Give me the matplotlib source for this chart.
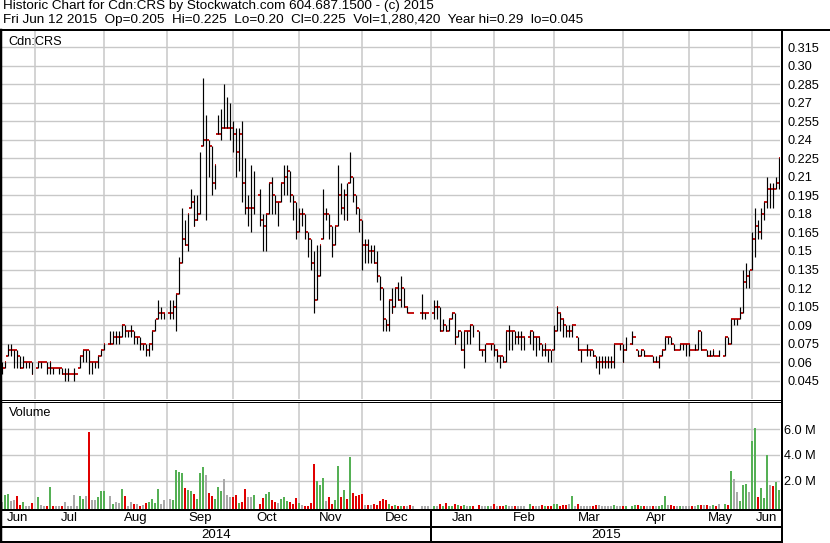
import numpy as np
import pandas as pd
import matplotlib
matplotlib.use("Agg")
import matplotlib.pyplot as plt
from matplotlib.transforms import blended_transform_factory

plt.rcParams['font.family'] = ['Liberation Sans', 'DejaVu Sans']

N_ = None
dates = pd.bdate_range('2014-06-16', '2015-06-12')

opens = [
    .055, .055, .065, .07, .07, .07, .065, .055, .06, .06,
    .06, N_, .055, .06, .06, .06, .055, .055, .055, .055,
    .055, .05, .05, .05, .05, .05, .055, .065, .07, .07,
    .06, .06, .06, .065, .07, N_, .075, .075, .08, .08,
    .08, .09, .085, .085, .085, .08, .08, .075, .075, .07,
    .075, .085, .095, .10, .10, N_, .10, .10, .105, .115,
    .14, .16, .155, .185, .19, .175, .18, .235, .24, .24,
    .235, .205, .245, .245, .25, .25, .25, .25, .245, .23,
    .245, .205, .185, .185, .185, N_, .195, .175, .17, .18,
    .205, .195, .19, .19, .205, .21, .215, .195, .19, .165,
    .18, .18, .165, .16, .14, .11, .13, .16, .18, .18,
    .17, .155, .17, .195, .185, .195, .205, .21, .195, .185,
    .175, .155, .155, .15, .15, .14, .13, .12, .095, .09,
    .11, .105, .12, .11, .12, .105, .10, .10, N_, N_,
    .10, .10, .10, N_, .10, .105, .105, .085, .09, .085,
    .095, .10, .08, .085, .07, .085, .085, .09, N_, .085,
    .07, .07, .075, .075, .075, .07, .065, .065, .06, .085,
    .085, .085, .08, .08, .08, N_, .08, .085, .08, .08,
    .075, .07, .07, .07, .07, .085, .10, .095, .09, .085,
    .085, .09, .08, .07, .07, .07, .07, .07, .065, .06,
    .06, .06, .06, .06, .06, .075, .075, .075, .07, N_,
    .075, .08, .07, .065, .07, .065, .065, .065, .06, .06,
    .065, .07, .08, .08, .075, .07, .07, .075, .075, .075,
    .07, .07, .07, .085, .07, .07, .065, .065, .065, .065,
    N_, .065, .08, .075, .095, .095, .095, .10, .125, .13,
    .135, .16, .17, .165, .18, .19, .20, .20, .20, .205,
]
highs = [
    .06, .06, .075, .075, .07, .07, .065, .065, .06, .06,
    .06, N_, .06, .06, .06, .06, .06, .055, .055, .055,
    .055, .055, .055, .05, .055, .05, .065, .07, .07, .07,
    .06, .06, .065, .07, .075, N_, .085, .085, .085, .085,
    .09, .09, .085, .09, .085, .08, .08, .075, .075, .075,
    .085, .095, .11, .105, .10, N_, .11, .11, .115, .145,
    .185, .175, .18, .20, .195, .195, .23, .29, .26, .24,
    .235, .22, .26, .265, .285, .275, .27, .255, .25, .25,
    .255, .225, .195, .22, .215, N_, .20, .18, .18, .205,
    .21, .195, .19, .205, .22, .22, .215, .195, .19, .185,
    .185, .18, .165, .16, .15, .155, .155, .20, .185, .18,
    .17, .17, .22, .205, .20, .205, .23, .21, .195, .185,
    .175, .16, .16, .155, .155, .15, .13, .12, .095, .11,
    .12, .12, .125, .13, .12, .105, .10, .10, N_, N_,
    .115, .10, .10, N_, .11, .11, .105, .095, .09, .095,
    .10, .10, .085, .085, .085, .085, .09, .09, N_, .085,
    .07, .075, .075, .075, .075, .07, .065, .065, .085, .09,
    .085, .085, .085, .085, .08, N_, .085, .085, .08, .08,
    .075, .075, .07, .07, .09, .105, .10, .095, .09, .09,
    .09, .09, .08, .07, .07, .075, .07, .07, .065, .065,
    .065, .065, .065, .065, .075, .075, .075, .075, .08, N_,
    .085, .08, .07, .07, .07, .065, .065, .065, .065, .065,
    .07, .08, .08, .08, .075, .07, .075, .075, .075, .075,
    .07, .075, .085, .085, .07, .07, .07, .07, .065, .07,
    N_, .08, .08, .095, .095, .095, .105, .135, .14, .135,
    .165, .185, .175, .185, .19, .21, .205, .205, .21, .225,
]
lows = [
    .05, .055, .065, .065, .055, .055, .055, .055, .055, .055,
    .05, N_, .055, .055, .06, .05, .05, .05, .055, .05,
    .05, .045, .045, .05, .045, .05, .055, .06, .06, .05,
    .05, .055, .055, .065, .07, N_, .075, .075, .075, .075,
    .08, .08, .08, .08, .075, .075, .07, .07, .065, .065,
    .07, .085, .095, .095, .095, N_, .095, .095, .085, .115,
    .14, .155, .15, .185, .17, .175, .18, .235, .175, .21,
    .195, .20, .245, .24, .25, .25, .24, .23, .21, .215,
    .19, .18, .17, .165, .18, N_, .17, .15, .15, .18,
    .18, .18, .17, .19, .195, .195, .19, .175, .16, .165,
    .17, .16, .145, .135, .10, .11, .13, .16, .175, .16,
    .145, .155, .17, .18, .175, .175, .205, .19, .18, .165,
    .135, .14, .14, .14, .14, .125, .11, .085, .085, .085,
    .10, .105, .11, .105, .105, .10, .10, .10, N_, N_,
    .095, .095, .10, N_, .095, .095, .085, .085, .085, .085,
    .095, .075, .08, .07, .055, .075, .075, .08, N_, .07,
    .065, .06, .075, .07, .065, .06, .055, .06, .06, .07,
    .07, .075, .075, .07, .07, N_, .075, .07, .065, .07,
    .065, .065, .06, .06, .07, .085, .085, .08, .08, .08,
    .08, .09, .07, .06, .07, .065, .065, .065, .055, .05,
    .055, .055, .055, .055, .055, .075, .07, .06, .07, N_,
    .075, .08, .065, .065, .065, .065, .065, .06, .06, .055,
    .065, .07, .075, .075, .07, .07, .07, .07, .065, .065,
    .07, .07, .07, .07, .07, .065, .065, .065, .065, .065,
    N_, .065, .075, .075, .09, .09, .095, .10, .12, .12,
    .135, .145, .16, .16, .175, .185, .185, .185, .20, .20,
]
closes = [
    .055, .06, .07, .07, .07, .065, .055, .06, .06, .06,
    .05, N_, .06, .06, .06, .055, .06, .055, .055, .055,
    .05, .05, .05, .05, .05, .05, .065, .07, .07, .06,
    .06, .06, .065, .07, .075, N_, .075, .08, .08, .08,
    .09, .085, .085, .085, .08, .08, .075, .075, .07, .075,
    .085, .09, .10, .10, .10, N_, .10, .105, .115, .14,
    .16, .155, .18, .19, .17, .175, .225, .24, .24, .235,
    .205, .22, .245, .25, .25, .25, .25, .245, .23, .245,
    .205, .185, .185, .185, .195, N_, .175, .17, .18, .205,
    .195, .19, .19, .205, .21, .215, .195, .19, .165, .18,
    .18, .17, .16, .14, .11, .13, .155, .18, .18, .17,
    .155, .17, .195, .185, .195, .175, .21, .195, .185, .175,
    .155, .155, .15, .15, .14, .135, .12, .10, .09, .11,
    .10, .12, .11, .12, .105, .105, .10, .10, N_, N_,
    .10, .10, .10, N_, .105, .105, .085, .09, .085, .095,
    .10, .075, .085, .07, .085, .085, .09, .085, N_, .07,
    .07, .07, .075, .075, .07, .07, .065, .06, .085, .085,
    .085, .08, .08, .08, .08, N_, .085, .08, .08, .08,
    .07, .075, .07, .065, .08, .105, .10, .095, .085, .085,
    .09, .09, .07, .07, .07, .07, .07, .065, .06, .06,
    .06, .06, .06, .06, .075, .075, .075, .06, .07, N_,
    .075, .08, .065, .07, .065, .065, .065, .06, .06, .065,
    .07, .08, .08, .075, .07, .07, .075, .075, .075, .075,
    .07, .07, .085, .07, .07, .065, .065, .07, .065, .065,
    N_, .08, .075, .095, .095, .095, .10, .125, .13, .13,
    .16, .17, .165, .18, .19, .20, .20, .19, .205, .225,
]
volumes_m = [
    .33, .87, .95, .38, .49, .79, .10, .33, .03, .05,
    .26, N_, .72, .10, .05, .05, 1.49, .05, .05, .05,
    .05, .33, .05, .03, .87, .03, .80, .60, .80, 5.8,
    .50, .50, .72, 1.18, 1.18, N_, .80, .18, .33, .26,
    1.33, .80, .05, .33, .18, .18, .05, .10, .26, .33,
    .56, .26, 1.33, .18, .49, N_, .56, .49, 2.8, 2.7,
    2.56, 1.41, 1.26, 1.18, .95, .56, 2.56, 3.03, 2.41, 1.03,
    .80, .56, 1.49, 1.18, 2.1, .87, .72, .72, .87, .26,
    .33, 1.33, .72, .72, .87, N_, .18, .64, .95, 1.1,
    .49, .33, .26, .56, .72, .41, .33, .18, .64, .26,
    .10, .05, .05, .26, 3.26, 1.97, 1.67, 2.18, .41, .72,
    .18, .49, 3.1, .72, 1.26, .56, 3.8, 1.03, .80, .87,
    .95, .10, .10, .10, .18, .10, .41, .56, .49, .18,
    .03, .10, .03, .05, .03, .03, .10, .03, N_, N_,
    .05, .05, .05, N_, .03, .05, .18, .03, .26, .03,
    .05, .18, .10, .03, .10, .02, .02, .03, N_, .10,
    .03, .05, .03, .02, .18, .03, .05, .05, .10, .02,
    .02, .03, .02, .02, .02, N_, .18, .05, .03, .03,
    .10, .05, .03, .03, .18, .18, .05, .10, .10, .18,
    .80, .05, .18, .03, .02, .02, .02, .03, .10, .10,
    .03, .02, .03, .03, .10, .03, .05, .03, .05, N_,
    .05, .10, .10, .05, .05, .03, .03, .05, .03, .05,
    .10, .77, .10, .10, .05, .05, .05, .05, .05, .03,
    .05, .05, .10, .10, .10, .10, .05, .10, .05, .20,
    N_, .20, .10, 2.74, 2.1, 1.12, .43, 1.64, 1.72, 1.12,
    5.05, 6.1, .70, 1.4, .66, 3.95, 1.64, 1.56, 1.87, 1.28,
]
price_levels = [0.045, 0.06, 0.075, 0.09, 0.105, 0.12, 0.135, 0.15, 0.165, 0.18,
                0.195, 0.21, 0.225, 0.24, 0.255, 0.27, 0.285, 0.30, 0.315]
volume_levels = [2.0, 4.0, 6.0]
header1 = "Historic Chart for Cdn:CRS by Stockwatch.com 604.687.1500 - (c) 2015"
header2 = ("Fri Jun 12 2015  Op=0.205  Hi=0.225  Lo=0.20  Cl=0.225  "
           "Vol=1,280,420  Year hi=0.29  lo=0.045")

# ---------------------------------------------------------------
W, H = 830, 543
fig = plt.figure(figsize=(W / 100, H / 100), dpi=100)
fig.patch.set_facecolor('white')

O = np.array(opens, dtype=float)
Hi = np.array(highs, dtype=float)
Lo = np.array(lows, dtype=float)
C = np.array(closes, dtype=float)
V = np.array(volumes_m, dtype=float)
N = len(dates)
x = np.arange(N)
valid = ~np.isnan(C)

# volume colours from close-to-close change
vcols = []
prev = None
for i in range(N):
    if not valid[i]:
        vcols.append('none')
        continue
    if prev is None or C[i] == prev:
        vcols.append('#a9a9a9')
    elif C[i] > prev:
        vcols.append('#55b055')
    else:
        vcols.append('#e00000')
    prev = C[i]
vcols = np.array(vcols)


def fr(px_left, px_top, px_w, px_h):
    return [px_left / W, 1 - (px_top + px_h) / H, px_w / W, px_h / H]


GRID = '#c8c8c8'
FS = 9.2
FS_HEAD = 9.7
FS_MON = 9.5

# month boundaries
grid_x = []
month_starts = pd.date_range('2014-07-01', '2015-06-01', freq='MS')
for ms in month_starts:
    k = int(np.searchsorted(dates.values, np.datetime64(ms)))
    if ms.weekday() >= 5:
        grid_x.append(k - 0.75)
    else:
        grid_x.append(k + 0.2)
bounds = [-0.5] + grid_x + [N - 0.5]
month_names = [d.strftime('%b') for d in pd.date_range('2014-06-01', '2015-06-01', freq='MS')]

# ---------------- price panel ----------------
ax_p = fig.add_axes(fr(0.2, 31, 780, 368))
ax_p.set_xlim(-0.5, N - 0.5)
ax_p.set_ylim(0.0301, 0.3282)
for s in ax_p.spines.values():
    s.set_visible(False)
ax_p.set_xticks([])
ax_p.set_yticks(price_levels)


def plab(v):
    s = f"{v:.3f}"
    if s.endswith('0'):
        s = s[:-1]
    return s


ax_p.set_yticklabels([plab(v) for v in price_levels])
ax_p.yaxis.tick_right()
ax_p.tick_params(axis='y', length=0, pad=5, labelsize=FS)
for lv in price_levels:
    ax_p.axhline(lv, color=GRID, lw=1.0, zorder=0)
for gx in grid_x:
    ax_p.axvline(gx, color=GRID, lw=1.1, zorder=0)

ax_p.vlines(x[valid], Lo[valid], Hi[valid], colors='black', lw=0.85, zorder=3)
ax_p.hlines(O[valid], x[valid] - 0.55, x[valid], colors='#c00000', lw=1.3, zorder=2)
ax_p.hlines(C[valid], x[valid], x[valid] + 0.55, colors='#c00000', lw=1.3, zorder=2)
ax_p.text(8 / 780, 1 - 5 / 368, 'Cdn:CRS', transform=ax_p.transAxes,
          ha='left', va='top', fontsize=FS)

# ---------------- volume panel ----------------
ax_v = fig.add_axes(fr(0.2, 403, 780, 106))
ax_v.set_xlim(-0.5, N - 0.5)
vfloor = -0.21
ax_v.set_ylim(vfloor, 8.02)
for s in ax_v.spines.values():
    s.set_visible(False)
ax_v.set_xticks([])
ax_v.set_yticks(volume_levels)
ax_v.set_yticklabels([f"{v:.1f} M" for v in volume_levels])
ax_v.yaxis.tick_right()
ax_v.tick_params(axis='y', length=0, pad=2.5, labelsize=FS)
for lv in volume_levels:
    ax_v.axhline(lv, color=GRID, lw=1.0, zorder=0)
for gx in grid_x:
    ax_v.axvline(gx, color=GRID, lw=1.1, zorder=0)
ax_v.bar(x[valid], V[valid] - vfloor, bottom=vfloor, width=0.67,
         color=vcols[valid], linewidth=0, zorder=2)
ax_v.text(9 / 780, 1 - 4 / 106, 'Volume', transform=ax_v.transAxes,
          ha='left', va='top', fontsize=FS)

# month and year labels
tr = blended_transform_factory(ax_v.transData, fig.transFigure)
for j, name in enumerate(month_names):
    xc = 0.5 * (bounds[j] + bounds[j + 1])
    fig.text(xc, 1 - 518 / H, name, transform=tr, ha='center', va='center', fontsize=FS_MON)
jan_x = grid_x[6]
fig.text(0.5 * (-0.5 + jan_x), 1 - 534.5 / H, '2014', transform=tr,
         ha='center', va='center', fontsize=FS_MON)
fig.text(0.5 * (jan_x + N - 0.5), 1 - 534.5 / H, '2015', transform=tr,
         ha='center', va='center', fontsize=FS_MON)

# header text
fig.text(3 / W, 1 - 0.5 / H, header1, ha='left', va='top', fontsize=FS_HEAD)
fig.text(3 / W, 1 - 13.5 / H, header2, ha='left', va='top', fontsize=FS_HEAD)

# ---------------- frame lines (pixel overlay) ----------------
ov = fig.add_axes([0, 0, 1, 1], zorder=10)
ov.set_xlim(0, W)
ov.set_ylim(H, 0)
ov.axis('off')
ov.patch.set_alpha(0)
jan_px = ax_v.transData.transform((jan_x, 0))[0]
k = 0.72
ov.plot([0, W], [30, 30], color='black', lw=2 * k)
ov.plot([1, 1], [30, H], color='black', lw=2.5 * k)
ov.plot([782, 782], [30, H], color='black', lw=2 * k)
ov.plot([0, 782], [400, 400], color='black', lw=1 * k)
ov.plot([0, 782], [402.2, 402.2], color='black', lw=1 * k)
ov.plot([0, 782], [510, 510], color='black', lw=2 * k)
ov.plot([0, 782], [526.8, 526.8], color='black', lw=2 * k)
ov.plot([0, 782], [542, 542], color='black', lw=2 * k)
ov.plot([jan_px, jan_px], [510, 542], color='black', lw=2 * k)

fig.savefig('out.png', dpi=100, facecolor='white')
